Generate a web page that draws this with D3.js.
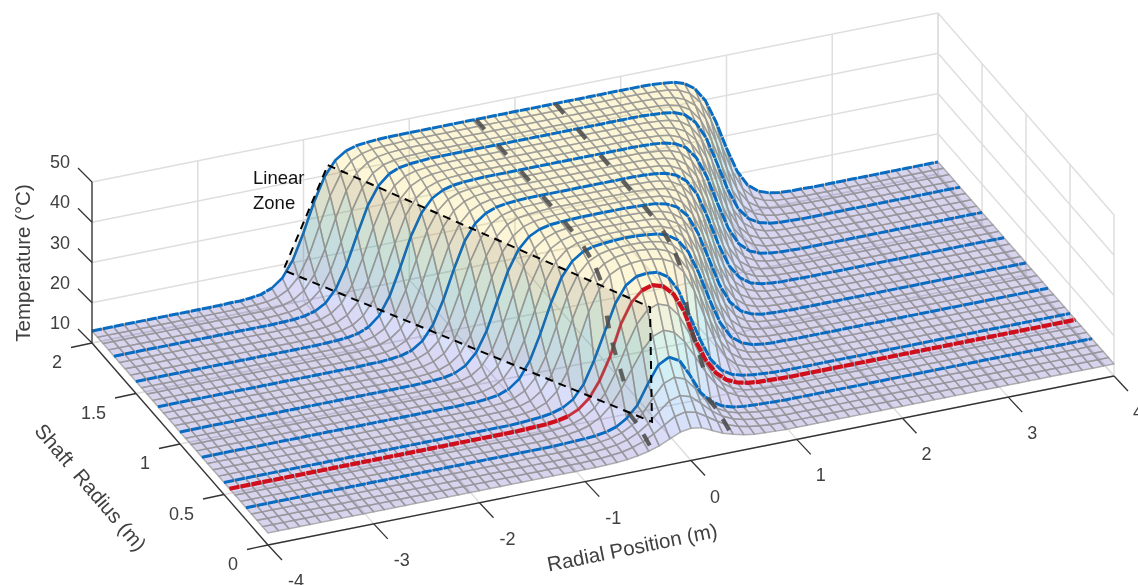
<!DOCTYPE html>
<html>
<head>
<meta charset="utf-8">
<script src="https://cdn.jsdelivr.net/npm/d3@7"></script>
<style>
  body { margin: 0; background: #fff; }
  svg { display: block; filter: blur(0.55px); font-family: "Liberation Sans", Arial, sans-serif; }
</style>
</head>
<body>
<svg id="chart" width="1138" height="585"></svg>
<script>
// Shaft radius of each mesh row (m)
let shaftRadii = [0, 0.0625, 0.125, 0.1875, 0.25, 0.3125, 0.375, 0.4375, 0.5, 0.5625, 0.625, 0.6875, 0.75, 0.8125, 0.875, 0.9375,
    1, 1.0625, 1.125, 1.1875, 1.25, 1.3125, 1.375, 1.4375, 1.5, 1.5625, 1.625, 1.6875, 1.75, 1.8125, 1.875, 1.9375, 2];

// Temperature, one list per row, for |radial position| = 0, 0.1, 0.2 ...
// The surface looks symmetric about 0, so only one side is kept.
// Past the end of a list the surface is flat at flatTemp.
let flatTemp = 13;
let tempRows = [
    [18.0,17.6,16.4,15.2,14.4,13.8,13.4,13.2,13.1],
    [20.5,19.9,18.3,16.6,15.2,14.3,13.7,13.4,13.2,13.1],
    [23.0,22.2,20.0,17.6,15.8,14.6,13.9,13.5,13.3,13.1],
    [26.0,25.0,22.0,18.6,16.2,14.8,14.0,13.6,13.3,13.2,13.1],
    [29.4,28.0,23.8,19.0,16.3,14.7,13.9,13.5,13.3,13.2,13.1],
    [34.5,33.5,30.6,26.4,22.0,18.4,16.0,14.6,13.8,13.4,13.2,13.1],
    [39.5,38.5,35.5,30.4,24.6,19.9,16.8,15.0,14.0,13.5,13.3,13.2,13.1],
    [42.6,41.8,39.3,34.4,27.0,21.5,17.6,15.4,14.2,13.6,13.3,13.2,13.1],
    [44.0,43.7,42.0,38.0,31.5,25.0,19.5,16.3,14.7,13.9,13.5,13.3,13.1],
    [45.6,45.4,44.9,43.6,40.6,35.4,28.3,21.7,17.3,15.0,13.9,13.4,13.2,13.1],
    [46.4,46.2,45.8,44.8,42.8,38.9,32.6,25.5,19.7,16.2,14.4,13.6,13.3,13.1,13.1],
    [46.4,46.3,46.1,45.5,44.2,41.5,36.6,29.8,22.9,18.0,15.3,14.0,13.4,13.2,13.1],
    [46.5,46.4,46.2,45.9,45.1,43.3,39.8,34.0,26.9,20.7,16.7,14.7,13.7,13.3,13.1,13.1],
    [46.5,46.5,46.3,46.1,45.7,44.6,42.2,37.8,31.2,24.2,18.8,15.7,14.2,13.5,13.2,13.1,13.0],
    [46.5,46.5,46.4,46.3,46.0,45.3,43.8,40.7,35.4,28.3,21.7,17.3,15.0,13.9,13.4,13.2,13.1],
    [46.5,46.5,46.5,46.4,46.2,45.8,44.8,42.8,38.9,32.6,25.5,19.7,16.2,14.4,13.6,13.3,13.1,13.1],
    [46.5,46.5,46.5,46.4,46.3,46.1,45.5,44.2,41.5,36.6,29.8,22.9,18.0,15.3,14.0,13.4,13.2,13.1],
    [46.5,46.5,46.5,46.5,46.4,46.2,45.9,45.1,43.3,39.8,34.0,26.9,20.7,16.7,14.7,13.7,13.3,13.1,13.1],
    [46.5,46.5,46.5,46.5,46.5,46.3,46.1,45.7,44.6,42.2,37.8,31.2,24.2,18.8,15.7,14.2,13.5,13.2,13.1,13.0],
    [46.5,46.5,46.5,46.5,46.5,46.4,46.3,46.0,45.3,43.8,40.7,35.4,28.3,21.7,17.3,15.0,13.9,13.4,13.2,13.1],
    [46.5,46.5,46.5,46.5,46.5,46.5,46.4,46.2,45.8,44.8,42.8,38.9,32.6,25.5,19.7,16.2,14.4,13.6,13.3,13.1,13.1],
    [46.5,46.5,46.5,46.5,46.5,46.5,46.4,46.3,46.1,45.5,44.2,41.5,36.6,29.8,22.9,18.0,15.3,14.0,13.4,13.2,13.1],
    [46.5,46.5,46.5,46.5,46.5,46.5,46.5,46.4,46.2,45.9,45.1,43.3,39.8,34.0,26.9,20.7,16.7,14.7,13.7,13.3,13.1,13.1],
    [46.5,46.5,46.5,46.5,46.5,46.5,46.5,46.5,46.3,46.1,45.7,44.6,42.2,37.8,31.2,24.2,18.8,15.7,14.2,13.5,13.2,13.1,13.0],
    [46.5,46.5,46.5,46.5,46.5,46.5,46.5,46.5,46.4,46.3,46.0,45.3,43.8,40.7,35.4,28.3,21.7,17.3,15.0,13.9,13.4,13.2,13.1],
    [46.5,46.5,46.5,46.5,46.5,46.5,46.5,46.5,46.5,46.4,46.2,45.8,44.8,42.8,38.9,32.6,25.5,19.7,16.2,14.4,13.6,13.3,13.1,13.1],
    [46.5,46.5,46.5,46.5,46.5,46.5,46.5,46.5,46.5,46.4,46.3,46.1,45.5,44.2,41.5,36.6,29.8,22.9,18.0,15.3,14.0,13.4,13.2,13.1],
    [46.5,46.5,46.5,46.5,46.5,46.5,46.5,46.5,46.5,46.5,46.4,46.2,45.9,45.1,43.3,39.8,34.0,26.9,20.7,16.7,14.7,13.7,13.3,13.1,13.1],
    [46.5,46.5,46.5,46.5,46.5,46.5,46.5,46.5,46.5,46.5,46.5,46.3,46.1,45.7,44.6,42.2,37.8,31.2,24.2,18.8,15.7,14.2,13.5,13.2,13.1,13.0],
    [46.5,46.5,46.5,46.5,46.5,46.5,46.5,46.5,46.5,46.5,46.5,46.4,46.3,46.0,45.3,43.8,40.7,35.4,28.3,21.7,17.3,15.0,13.9,13.4,13.2,13.1],
    [46.5,46.5,46.5,46.5,46.5,46.5,46.5,46.5,46.5,46.5,46.5,46.5,46.4,46.2,45.8,44.8,42.8,38.9,32.6,25.5,19.7,16.2,14.4,13.6,13.3,13.1,13.1],
    [46.5,46.5,46.5,46.5,46.5,46.5,46.5,46.5,46.5,46.5,46.5,46.5,46.4,46.3,46.1,45.5,44.2,41.5,36.6,29.8,22.9,18.0,15.3,14.0,13.4,13.2,13.1],
    [46.5,46.5,46.5,46.5,46.5,46.5,46.5,46.5,46.5,46.5,46.5,46.5,46.5,46.4,46.2,45.9,45.1,43.3,39.8,34.0,26.9,20.7,16.7,14.7,13.7,13.3,13.1,13.1]
];

let blueRows = [4, 8, 12, 16, 20, 24, 28, 32];   // indexes into shaftRadii
let redRow = 7;

// thick grey dashes run along the surface at these radial positions
let dashColumns = [-0.37, 0.38];
let dashRadii = [1.95, 1.70, 1.44, 1.19, 0.95, 0.74, 0.61, 0.50, 0.43, 0.34, 0.22, 0.06];

// corners of the "Linear Zone" box
let zoneRadial = [-1.77, -0.172, -0.286, -2.19];
let zoneShaft = [2, 0.259, 0.1, 2];
let zoneTemp = [42.5, 42.5, 18.6, 18.6];

let xTicks = [-4, -3, -2, -1, 0, 1, 2, 3, 4];
let yTicks = [0, 0.5, 1, 1.5, 2];
let zTicks = [10, 20, 30, 40, 50];

// parula colours, warmer at the top like the picture
let parula = ["#3e26a8", "#4755e6", "#2f86e8", "#1ba6d2", "#23bcab", "#7cc46a", "#dbb93f", "#f6cf38", "#f6d232"];

// fixed oblique view
let originX = 268, originY = 545;
let xAlongX = d3.scaleLinear().domain([-4, 4]).range([0, 846]);
let xAlongY = d3.scaleLinear().domain([-4, 4]).range([0, -169]);
let yAlongX = d3.scaleLinear().domain([0, 2]).range([0, -176]);
let yAlongY = d3.scaleLinear().domain([0, 2]).range([0, -202]);
let zAlongY = d3.scaleLinear().domain([10, 50]).range([0, -161]);

function project(x, y, z) {
    return [originX + xAlongX(x) + yAlongX(y), originY + xAlongY(x) + yAlongY(y) + zAlongY(z)];
}

let columns = d3.range(-40, 41);   // tenths of a metre

function tempAt(col, row) {
    let v = tempRows[row][Math.abs(col)];
    return v === undefined ? flatTemp : v;
}

let color = d3.scaleLinear().domain(d3.range(parula.length).map(i => 13 + i * 33.5 / (parula.length - 1))).range(parula).clamp(true);

let line = d3.line();
let svg = d3.select("#chart");

// walls and floor grid
let grid = svg.append("g").attr("fill", "none").attr("stroke", "#dedede").attr("stroke-width", 1.5);
xTicks.forEach(function(x) {
    grid.append("path").attr("d", line([project(x, 2, 10), project(x, 2, 50)]));
    grid.append("path").attr("d", line([project(x, 0, 10), project(x, 2, 10)]));
});
yTicks.forEach(function(y) {
    grid.append("path").attr("d", line([project(4, y, 10), project(4, y, 50)]));
    grid.append("path").attr("d", line([project(-4, y, 10), project(4, y, 10)]));
});
zTicks.forEach(function(z) {
    grid.append("path").attr("d", line([project(-4, 2, z), project(4, 2, z), project(4, 0, z)]));
});

// surface cells, back to front
let cells = [];
for (let r = shaftRadii.length - 2; r >= 0; r--) {
    for (let c = columns.length - 2; c >= 0; c--) {
        let c0 = columns[c], c1 = columns[c + 1];
        let t = [tempAt(c0, r), tempAt(c1, r), tempAt(c1, r + 1), tempAt(c0, r + 1)];
        cells.push({
            pts: [project(c0 / 10, shaftRadii[r], t[0]), project(c1 / 10, shaftRadii[r], t[1]),
                  project(c1 / 10, shaftRadii[r + 1], t[2]), project(c0 / 10, shaftRadii[r + 1], t[3])],
            temp: d3.mean(t)
        });
    }
}
svg.append("g").selectAll("path").data(cells).join("path")
    .attr("d", d => line(d.pts) + "Z")
    .attr("fill", d => color(d.temp))
    .attr("fill-opacity", 0.2)
    .attr("stroke", "#969696")
    .attr("stroke-opacity", 0.72)
    .attr("stroke-width", 1.5)
    .attr("stroke-linejoin", "round");

// split a row into the rising left flank (drawn thin) and the rest (drawn thick)
function rowParts(r) {
    let parts = [], current = null;
    for (let i = 0; i < columns.length - 1; i++) {
        let c0 = columns[i], c1 = columns[i + 1];
        let thin = tempAt(c1, r) - tempAt(c0, r) > 1.2 && c0 < 0;
        if (!current || current.thin !== thin) {
            current = { thin: thin, pts: [project(c0 / 10, shaftRadii[r], tempAt(c0, r))] };
            parts.push(current);
        }
        current.pts.push(project(c1 / 10, shaftRadii[r], tempAt(c1, r)));
    }
    return parts;
}

function drawRow(r, stroke, thick, thin, thinOpacity) {
    svg.append("g").selectAll("path").data(rowParts(r)).join("path")
        .attr("d", d => line(d.pts))
        .attr("fill", "none")
        .attr("stroke", stroke)
        .attr("stroke-opacity", d => d.thin ? thinOpacity : 1)
        .attr("stroke-width", d => d.thin ? thin : thick)
        .attr("stroke-dasharray", d => d.thin ? null : "10 1.2");
}

// highlighted rows
blueRows.forEach(function(r) { drawRow(r, "#0a6cc0", 3, 2.6, 1); });
drawRow(redRow, "#cf0f1c", 4.2, 3, 0.75);

// grey dashes
function surfaceTemp(x, y) {
    let cf = Math.abs(x) * 10, c0 = Math.floor(cf), cw = cf - c0;
    let r0 = d3.bisectRight(shaftRadii, y) - 1, r1 = Math.min(r0 + 1, shaftRadii.length - 1);
    let rw = r1 === r0 ? 0 : (y - shaftRadii[r0]) / (shaftRadii[r1] - shaftRadii[r0]);
    let a = tempAt(c0, r0) * (1 - cw) + tempAt(c0 + 1, r0) * cw;
    let b = tempAt(c0, r1) * (1 - cw) + tempAt(c0 + 1, r1) * cw;
    return a * (1 - rw) + b * rw;
}
let dashSegments = [];
dashColumns.forEach(function(x) {
    dashRadii.forEach(function(y) {
        let p = project(x, y - 0.012, surfaceTemp(x, y - 0.012));
        let q = project(x, y + 0.012, surfaceTemp(x, y + 0.012));
        let dx = q[0] - p[0], dy = q[1] - p[1], len = Math.hypot(dx, dy), half = 6.5;
        let mx = (p[0] + q[0]) / 2, my = (p[1] + q[1]) / 2;
        dashSegments.push([[mx - dx / len * half, my - dy / len * half], [mx + dx / len * half, my + dy / len * half]]);
    });
});
svg.append("g").selectAll("path").data(dashSegments).join("path")
    .attr("d", d => line(d))
    .attr("stroke", "#4c4c4c")
    .attr("stroke-opacity", 0.88)
    .attr("stroke-width", 4.2);

// linear zone
let zonePts = zoneRadial.map((x, i) => project(x, zoneShaft[i], zoneTemp[i]));
svg.append("path")
    .attr("d", line(zonePts) + "Z")
    .attr("fill", "#6e6250")
    .attr("fill-opacity", 0.13)
    .attr("stroke", "#000")
    .attr("stroke-width", 2)
    .attr("stroke-dasharray", "8 6");

svg.append("text").attr("x", 253).attr("y", 184).attr("font-size", 18.5).attr("fill", "#111").text("Linear");
svg.append("text").attr("x", 253).attr("y", 209).attr("font-size", 18.5).attr("fill", "#111").text("Zone");

// axes
let axes = svg.append("g").attr("fill", "none").attr("stroke", "#333").attr("stroke-width", 1.3);
axes.append("path").attr("d", line([project(-4, 0, 10), project(4, 0, 10)]));
axes.append("path").attr("d", line([project(-4, 0, 10), project(-4, 2, 10)]));
axes.append("path").attr("d", line([project(-4, 2, 10), project(-4, 2, 50)]));

let labels = svg.append("g").attr("font-size", 18).attr("fill", "#404040");

xTicks.forEach(function(x) {
    let p = project(x, 0, 10);
    axes.append("path").attr("d", line([p, [p[0] + 14, p[1] + 15]]));
    labels.append("text").attr("x", p[0] + (x < 0 ? 28 : 24)).attr("y", p[1] + 36)
        .attr("text-anchor", "middle").attr("dominant-baseline", "central").text(x);
});
yTicks.forEach(function(y) {
    let p = project(-4, y, 10);
    axes.append("path").attr("d", line([p, [p[0] - 21, p[1] + 4.5]]));
    labels.append("text").attr("x", p[0] - 30).attr("y", p[1] + 19)
        .attr("text-anchor", "end").attr("dominant-baseline", "central").text(y);
});
zTicks.forEach(function(z) {
    let p = project(-4, 2, z);
    axes.append("path").attr("d", line([p, [p[0] - 14, p[1] - 14]]));
    labels.append("text").attr("x", p[0] - 22).attr("y", p[1] - 20)
        .attr("text-anchor", "end").attr("dominant-baseline", "central").text(z);
});

labels.append("text")
    .attr("transform", "translate(22,263) rotate(-90)")
    .attr("font-size", 20.5)
    .attr("text-anchor", "middle").attr("dominant-baseline", "central")
    .text("Temperature (°C)");
labels.append("text")
    .attr("transform", "translate(91,487) rotate(49.6)")
    .attr("font-size", 20.5)
    .attr("text-anchor", "middle").attr("dominant-baseline", "central")
    .style("white-space", "pre")
    .text("Shaft  Radius (m)");
labels.append("text")
    .attr("transform", "translate(632,547) rotate(-11.5)")
    .attr("font-size", 20.5)
    .attr("text-anchor", "middle").attr("dominant-baseline", "central")
    .text("Radial Position (m)");
</script>
</body>
</html>
